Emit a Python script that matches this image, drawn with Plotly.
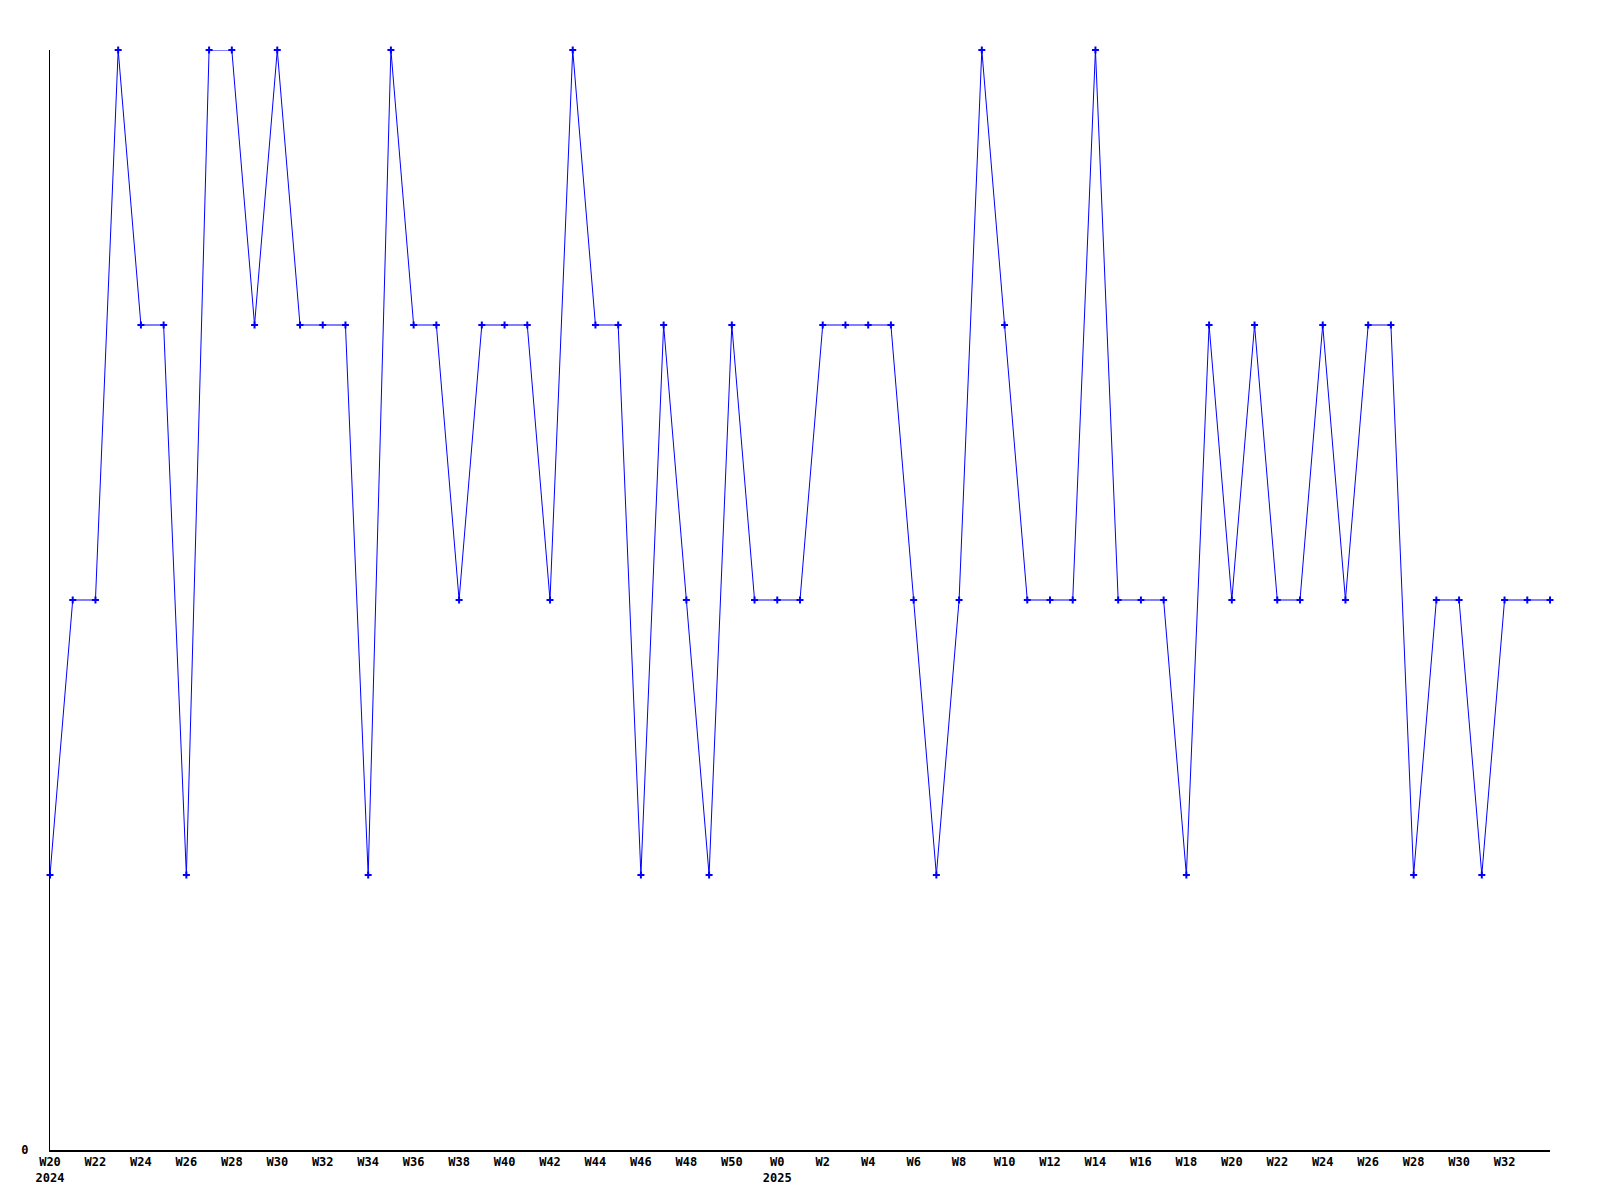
import plotly.graph_objects as go

# Week categories (2024 W20 .. W51, then 2025 W0 .. W34)
weeks = (["2024-W%d" % w for w in range(20, 52)] +
         ["2025-W%d" % w for w in range(0, 35)])

values = [1, 2, 2, 4, 3, 3, 1, 4, 4, 3,
          4, 3, 3, 3, 1, 4, 3, 3, 2, 3,
          3, 3, 2, 4, 3, 3, 1, 3, 2, 1,
          3, 2, 2, 2, 3, 3, 3, 3, 2, 1,
          2, 4, 3, 2, 2, 2, 4, 2, 2, 2,
          1, 3, 2, 3, 2, 2, 3, 2, 3, 3,
          1, 2, 2, 1, 2, 2, 2]

tick_weeks = ["2024-W20", "2024-W22", "2024-W24", "2024-W26", "2024-W28", "2024-W30",
              "2024-W32", "2024-W34", "2024-W36", "2024-W38", "2024-W40", "2024-W42",
              "2024-W44", "2024-W46", "2024-W48", "2024-W50",
              "2025-W0", "2025-W2", "2025-W4", "2025-W6", "2025-W8", "2025-W10",
              "2025-W12", "2025-W14", "2025-W16", "2025-W18", "2025-W20", "2025-W22",
              "2025-W24", "2025-W26", "2025-W28", "2025-W30", "2025-W32"]
tick_text = ["W20<br>2024", "W22", "W24", "W26", "W28", "W30",
             "W32", "W34", "W36", "W38", "W40", "W42",
             "W44", "W46", "W48", "W50",
             "W0<br>2025", "W2", "W4", "W6", "W8", "W10",
             "W12", "W14", "W16", "W18", "W20", "W22",
             "W24", "W26", "W28", "W30", "W32"]

x = list(range(len(weeks)))
tick_pos = [weeks.index(w) for w in tick_weeks]

fig = go.Figure(go.Scatter(
    x=x, y=values, mode="lines+markers",
    line=dict(color="#0000ff", width=1),
    marker=dict(color="#0000ff", size=5, symbol="cross-thin", line=dict(color="#0000ff", width=2)),
    hovertext=weeks,
    cliponaxis=False,
))

font = dict(family="DejaVu Sans Mono", size=12, color="black")
fig.update_layout(
    width=1600, height=1200,
    margin=dict(l=42, r=58, t=42, b=58),
    plot_bgcolor="white", paper_bgcolor="white",
    showlegend=False,
    font=font,
    xaxis=dict(range=[0, len(weeks) - 1], showgrid=False, zeroline=False,
               showline=True, linecolor="black", linewidth=1.5,
               tickmode="array", tickvals=tick_pos, ticktext=tick_text,
               ticks="", tickangle=0, tickfont=dict(family="DejaVu Sans Mono", size=12, weight="bold")),
    yaxis=dict(range=[0, 4], showgrid=False, zeroline=False,
               showline=True, linecolor="black", linewidth=1,
               tickmode="array", tickvals=[0], ticktext=["0"],
               ticks="", ticklabelstandoff=18,
               tickfont=dict(family="DejaVu Sans Mono", size=12, weight="bold")),
)

fig.write_html("out.html")
